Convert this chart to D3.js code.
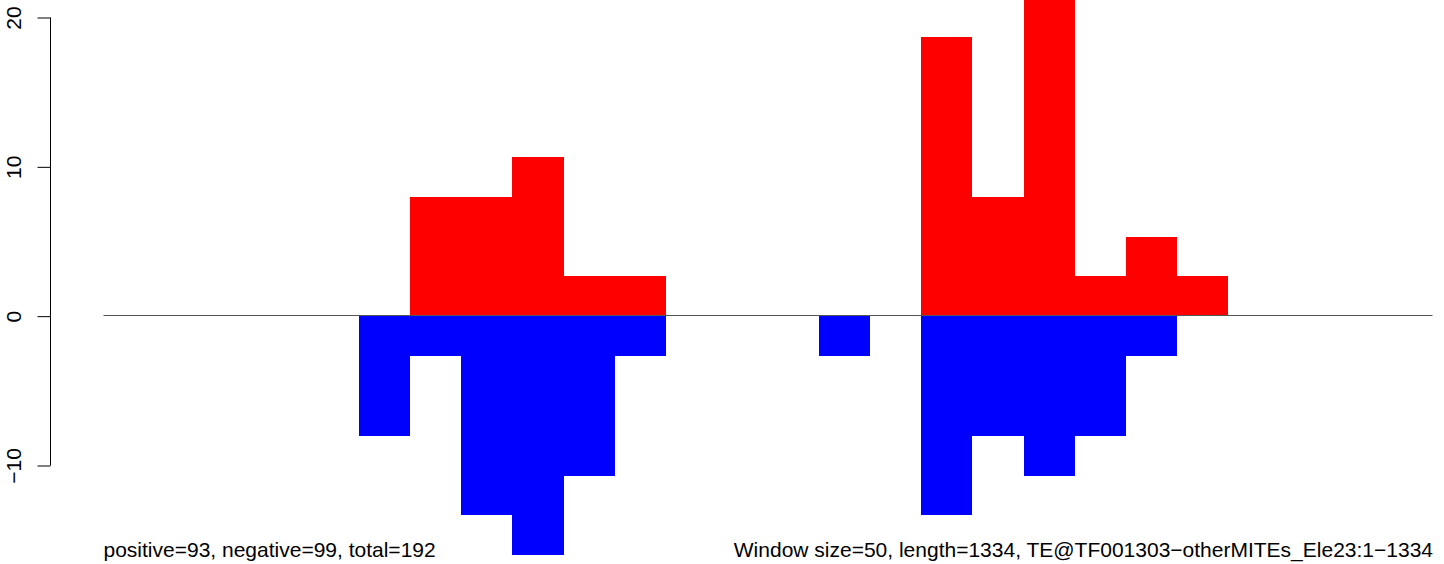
<!DOCTYPE html>
<html>
<head>
<meta charset="utf-8">
<script src="https://cdn.jsdelivr.net/npm/d3@7"></script>
<style>
  html, body { margin: 0; padding: 0; background: #fff; }
  svg { display: block; }
  text { font-family: "Liberation Sans", Arial, Helvetica, sans-serif; }
</style>
</head>
<body>
<svg id="chart" width="1444" height="564"></svg>
<script>
// Window index (window size 50 bp)
const windows = [0,1,2,3,4,5,6,7,8,9,10,11,12,13,14,15,16,17,18,19,20,21,22,23,24,25,26];
// Positive strand values per window (red, above zero)
const positive = [0,0,0,0,0,0,8,8,10.67,2.67,2.67,0,0,0,0,0,18.67,8,21.33,2.67,5.33,2.67,0,0,0,0,0];
// Negative strand values per window (blue, below zero)
const negative = [0,0,0,0,0,-8,-2.67,-13.33,-16,-10.67,-2.67,0,0,0,-2.67,0,-13.33,-8,-10.67,-8,-2.67,0,0,0,0,0,0];
const yTicks = [-10, 0, 10, 20];
const leftLabel = "positive=93, negative=99, total=192";
const rightLabel = "Window size=50, length=1334, TE@TF001303\u2212otherMITEs_Ele23:1\u22121334";

const svg = d3.select("#chart");
const x = d3.scaleLinear().domain([0, 26]).range([103.5, 1432.5]);
const y = d3.scaleLinear().domain([-10, 20]).range([465.5, 17.5]);

const g = svg.append("g").attr("clip-path", "url(#clip)");
svg.append("clipPath").attr("id", "clip").append("rect")
  .attr("x", 0).attr("y", 0).attr("width", 1444).attr("height", 564);

const bw = x(1) - x(0);

g.selectAll("rect.pos").data(windows.filter(i => positive[i] !== 0)).enter()
  .append("rect").attr("class", "pos")
  .attr("x", i => x(i)).attr("width", bw)
  .attr("y", i => y(positive[i])).attr("height", i => y(0) - y(positive[i]))
  .attr("fill", "#ff0000").attr("shape-rendering", "crispEdges");

g.selectAll("rect.neg").data(windows.filter(i => negative[i] !== 0)).enter()
  .append("rect").attr("class", "neg")
  .attr("x", i => x(i)).attr("width", bw)
  .attr("y", y(0)).attr("height", i => y(negative[i]) - y(0))
  .attr("fill", "#0000ff").attr("shape-rendering", "crispEdges");

// zero line
svg.append("line")
  .attr("x1", x(0)).attr("x2", x(26))
  .attr("y1", Math.round(y(0)) - 0.5).attr("y2", Math.round(y(0)) - 0.5)
  .attr("stroke", "#555").attr("stroke-width", 1);

// y axis
const axis = d3.axisLeft(y).tickValues(yTicks).tickSize(13).tickPadding(0)
  .tickFormat(d => d < 0 ? "\u2212" + Math.abs(d) : d);
const ag = svg.append("g").attr("transform", "translate(50.5,0)").call(axis);
ag.select(".domain").attr("d", `M-0,${y(20)}V${y(-10)}`).attr("stroke", "#000");
ag.selectAll(".tick line").attr("stroke", "#000");
ag.selectAll(".tick text")
  .attr("font-size", 21).attr("fill", "#000")
  .attr("font-family", "Liberation Sans, Arial, sans-serif")
  .attr("text-anchor", "middle")
  .attr("x", null).attr("dy", null)
  .attr("transform", "translate(-30,0) rotate(-90)");

svg.append("text").attr("x", 103.5).attr("y", 556.5)
  .attr("font-size", 21).attr("fill", "#000").text(leftLabel);
svg.append("text").attr("x", 1433).attr("y", 556.5).attr("text-anchor", "end")
  .attr("font-size", 21).attr("fill", "#000").text(rightLabel);
</script>
</body>
</html>
